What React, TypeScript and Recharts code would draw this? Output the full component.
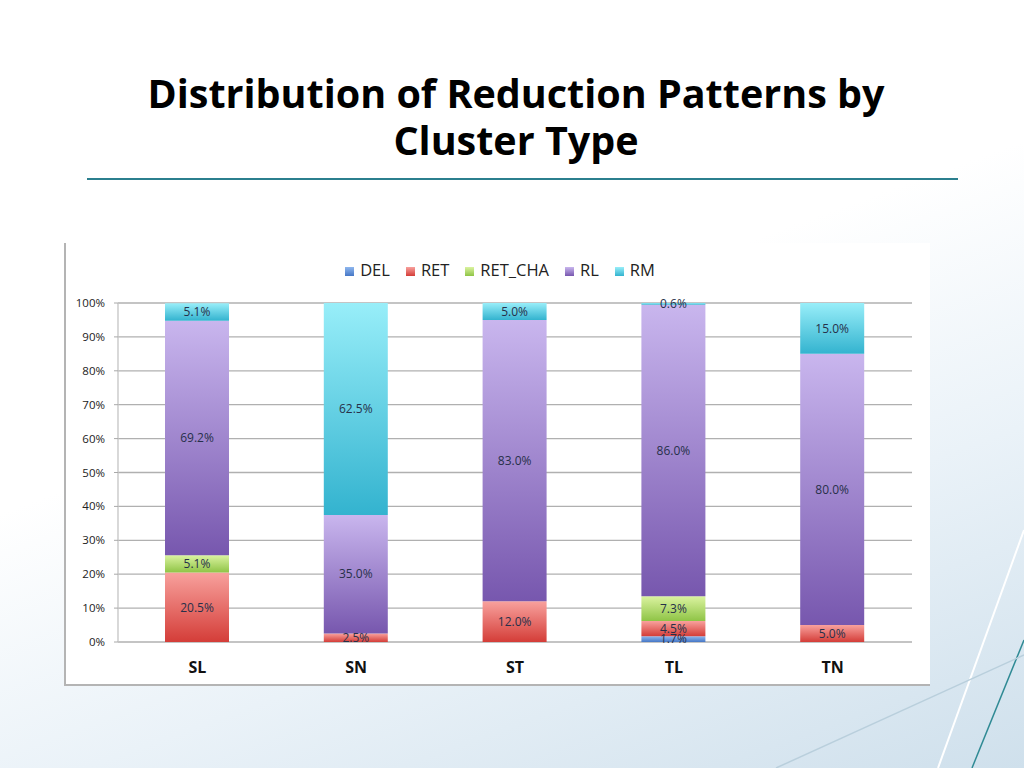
import React from "react";
import {
  BarChart,
  Bar,
  XAxis,
  YAxis,
  CartesianGrid,
  Legend,
  LabelList,
} from "recharts";

const clusters = ["SL", "SN", "ST", "TL", "TN"];
const del = [0, 0, 0, 1.7, 0];
const ret = [20.5, 2.5, 12.0, 4.5, 5.0];
const retCha = [5.1, 0, 0, 7.3, 0];
const rl = [69.2, 35.0, 83.0, 86.0, 80.0];
const rm = [5.1, 62.5, 5.0, 0.6, 15.0];
const yTicks = [0, 10, 20, 30, 40, 50, 60, 70, 80, 90, 100];
const bandTicks = [0, 1, 2, 3, 4, 5];

const data = clusters.map((c, i) => ({
  cluster: c,
  DEL: del[i],
  RET: ret[i],
  RET_CHA: retCha[i],
  RL: rl[i],
  RM: rm[i],
}));

const series = [
  { key: "DEL", top: "#8fb7ee", bottom: "#4677c6" },
  { key: "RET", top: "#f8a19d", bottom: "#d43d38" },
  { key: "RET_CHA", top: "#dbf3a0", bottom: "#8fc446" },
  { key: "RL", top: "#c9b6ee", bottom: "#7757ae" },
  { key: "RM", top: "#98eef9", bottom: "#33b3cf" },
];

const font = "'Open Sans', 'DejaVu Sans', sans-serif";

const fmt = (v: any) => (v && Number(v) > 0 ? `${Number(v).toFixed(1)}%` : "");

const App = () => {
  return (
    <div
      style={{
        position: "absolute",
        left: 0,
        top: 0,
        width: 1024,
        height: 768,
        overflow: "hidden",
        fontFamily: font,
        background:
          "linear-gradient(160deg, #ffffff 0%, #ffffff 45%, #eaf2f8 70%, #cfe0ec 100%)",
      }}
    >
      <svg
        width={1024}
        height={768}
        style={{ position: "absolute", left: 0, top: 0 }}
      >
        <line x1={1024} y1={530} x2={938} y2={768} stroke="#ffffff" strokeWidth={2} />
        <line x1={1024} y1={640} x2={972} y2={768} stroke="#2f8a94" strokeWidth={1.5} />
        <line x1={1024} y1={655} x2={776} y2={768} stroke="#b9cfdc" strokeWidth={1.5} />
      </svg>

      <div
        style={{
          position: "absolute",
          left: 0,
          top: 70,
          width: 1032,
          textAlign: "center",
          fontSize: 39.5,
          fontWeight: 700,
          lineHeight: "47px",
          color: "#000",
        }}
      >
        Distribution of Reduction Patterns by
        <br />
        Cluster Type
      </div>
      <div
        style={{
          position: "absolute",
          left: 87,
          top: 178,
          width: 871,
          height: 2,
          background: "#2b7f8e",
        }}
      />

      <div
        style={{
          position: "absolute",
          left: 64,
          top: 243,
          width: 866,
          height: 443,
          background: "#fff",
          boxSizing: "border-box",
          borderLeft: "2px solid #b4b4b4",
          borderBottom: "2px solid #b4b4b4",
        }}
      >
        <svg width={0} height={0} style={{ position: "absolute" }}>
          <defs>
            {series.map((s) => (
              <linearGradient key={s.key} id={`g-${s.key}`} x1="0" y1="0" x2="0" y2="1">
                <stop offset="0%" stopColor={s.top} />
                <stop offset="100%" stopColor={s.bottom} />
              </linearGradient>
            ))}
          </defs>
        </svg>
        <BarChart
          width={864}
          height={441}
          data={data}
          margin={{ top: 60, right: 18, left: 0, bottom: 0 }}
          style={{ fontFamily: font }}
        >
          <CartesianGrid
            vertical={false}
            stroke="#b0b0b0"
            strokeWidth={1.3}
          />
          <XAxis
            xAxisId="band"
            type="number"
            domain={[0, 5]}
            ticks={bandTicks}
            height={0}
            tickSize={5}
            tickFormatter={() => ""}
            axisLine={{ stroke: "#a8a8a8", strokeWidth: 1.3 }}
            tickLine={{ stroke: "#a8a8a8" }}
            allowDataOverflow
          />
          <XAxis
            dataKey="cluster"
            xAxisId="cat"
            height={42}
            axisLine={false}
            tickLine={false}
            tickMargin={14}
            tick={{ fontSize: 16, fontWeight: 700, fill: "#111" }}
          />
          <YAxis
            width={52}
            domain={[0, 100]}
            ticks={yTicks}
            allowDataOverflow
            tickFormatter={(v) => `${v}%`}
            tickSize={4}
            tickMargin={9}
            axisLine={{ stroke: "#c4c4c4", strokeWidth: 1.3 }}
            tickLine={{ stroke: "#a8a8a8" }}
            tick={{ fontSize: 11.5, fill: "#222" }}
          />
          <Legend
            layout="horizontal"
            verticalAlign="middle"
            align="center"
            iconType="square"
            iconSize={9}
            wrapperStyle={{ top: 15, left: 10, width: 864, fontSize: 16.5 }}
            formatter={(value) => (
              <span style={{ color: "#222", marginLeft: 2, marginRight: 6 }}>{value}</span>
            )}
          />
          {series.map((s) => (
            <Bar
              key={s.key}
              dataKey={s.key}
              name={s.key}
              stackId="a"
              xAxisId="cat"
              barSize={64}
              fill={`url(#g-${s.key})`}
              isAnimationActive={false}
            >
              <LabelList
                dataKey={s.key}
                position="center"
                formatter={fmt}
                style={{ fontSize: 12, fill: "#27304a" }}
              />
            </Bar>
          ))}
        </BarChart>
      </div>
    </div>
  );
};

export default App;
